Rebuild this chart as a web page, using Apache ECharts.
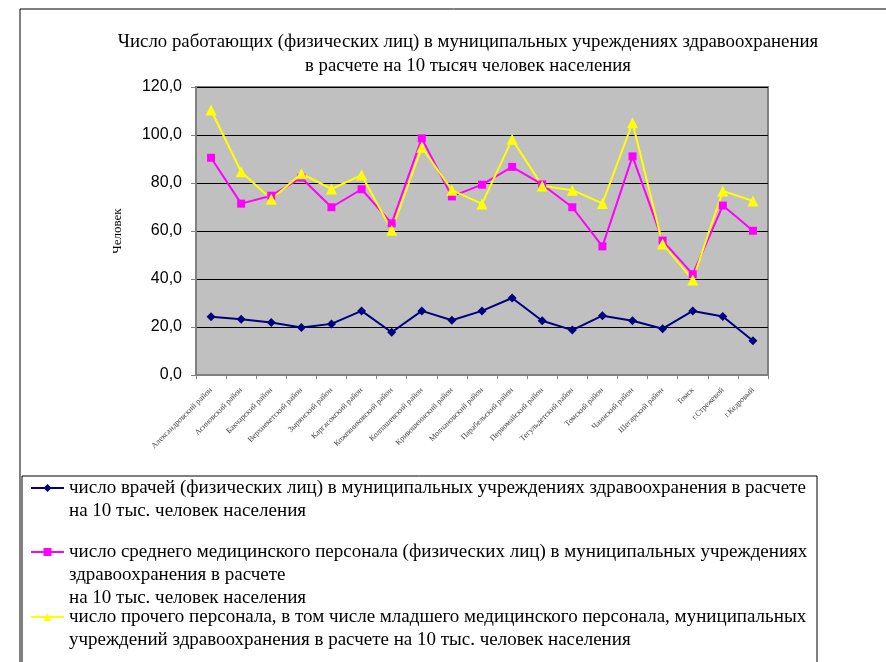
<!DOCTYPE html>
<html>
<head>
<meta charset="utf-8">
<script src="https://cdn.jsdelivr.net/npm/echarts@6/dist/echarts.min.js"></script>
<style>
    html, body { margin: 0; padding: 0; background: #fff; }
    #chart { width: 886px; height: 662px; }
</style>
</head>
<body>
<div id="chart"></div>
<script>
// районы
const districts = ['Александровский район', 'Асиновский район', 'Бакчарский район', 'Верхнекетский район',
    'Зырянский район', 'Каргасокский район', 'Кожевниковский район', 'Колпашевский район',
    'Кривошеинский район', 'Молчановский район', 'Парабельский район', 'Первомайский район',
    'Тегульдетский район', 'Томский район', 'Чаинский район', 'Шегарский район', 'Томск',
    'г.Стрежевой', 'г.Кедровый'];
// врачи
const doctors = [24.3, 23.2, 21.9, 19.8, 21.3, 26.7, 17.8, 26.7, 22.8, 26.7, 32.1, 22.6, 18.7, 24.7, 22.6, 19.3, 26.7, 24.4, 14.3];
// средний медперсонал
const nurses = [90.5, 71.4, 74.7, 82.2, 69.9, 77.4, 63.2, 98.6, 74.4, 79.3, 86.7, 79.4, 69.9, 53.6, 91.1, 56.0, 42.0, 70.6, 60.1];
// прочий персонал
const others = [110.4, 84.7, 73.2, 83.9, 77.5, 83.3, 60.3, 94.9, 77.0, 71.3, 98.2, 78.8, 77.0, 71.5, 105.1, 54.6, 39.6, 76.7, 72.5];

const names = [
    'число врачей (физических лиц) в муниципальных учреждениях здравоохранения в расчете\nна 10 тыс. человек населения',
    'число среднего медицинского персонала (физических лиц) в муниципальных учреждениях\nздравоохранения в расчете\nна 10 тыс. человек населения',
    'число прочего персонала, в том числе младшего медицинского персонала, муниципальных\nучреждений здравоохранения в расчете на 10 тыс. человек населения'
];

const serif = '"Liberation Serif", "DejaVu Serif", serif';
const sans = '"Liberation Sans", Arial, sans-serif';

const mychart = echarts.init(document.getElementById('chart'));

// одна легенда на каждую серию, чтобы расставить их как в оригинале
// пустые строки сверху: текст центрируется по значку, так значок встает у первой строки
function legendFor(name, top) {
    const lines = name.split('\n').length;
    return {
        data: [name],
        left: 25,
        top: top,
        orient: 'vertical',
        itemWidth: 33,
        itemHeight: 10,
        formatter: n => '\n'.repeat(lines - 1) + n,
        textStyle: { fontFamily: serif, fontSize: 19, color: '#000', lineHeight: 23 }
    };
}

mychart.setOption({
    animation: false,
    title: {
        text: 'Число работающих (физических лиц) в муниципальных учреждениях здравоохранения\nв расчете на 10 тысяч человек населения',
        left: 463,
        textAlign: 'center',
        top: 25,
        textStyle: { fontFamily: serif, fontSize: 18.8, fontWeight: 'normal', color: '#000', lineHeight: 24 }
    },
    graphic: [
        {
            type: 'rect',
            shape: { x: 20, y: 9, width: 900, height: 700 },
            style: { fill: 'none', stroke: '#000', lineWidth: 1 },
            silent: true
        },
        {
            type: 'rect',
            shape: { x: 22, y: 476, width: 795, height: 250 },
            style: { fill: 'none', stroke: '#000', lineWidth: 1 },
            silent: true
        }
    ],
    legend: [
        legendFor(names[0], 448.5),
        legendFor(names[1], 489.5),
        legendFor(names[2], 577.5)
    ],
    grid: {
        left: 196,
        right: 118,
        top: 87,
        bottom: 287,
        show: true,
        backgroundColor: '#C0C0C0',
        borderColor: '#808080',
        borderWidth: 2
    },
    xAxis: {
        type: 'category',
        data: districts,
        boundaryGap: true,
        axisLine: { lineStyle: { color: '#808080', width: 2 } },
        axisTick: { show: true, length: 4, lineStyle: { color: '#808080', width: 1 } },
        axisLabel: {
            rotate: 45,
            interval: 0,
            fontFamily: serif,
            fontSize: 8,
            color: '#444',
            margin: 14
        }
    },
    yAxis: {
        type: 'value',
        min: 0,
        max: 120,
        interval: 20,
        name: 'Человек',
        nameLocation: 'middle',
        nameRotate: 90,
        nameGap: 72,
        nameTextStyle: { fontFamily: serif, fontSize: 13, color: '#000' },
        axisLine: { show: true, lineStyle: { color: '#808080', width: 2 } },
        axisTick: { show: true, length: 5, lineStyle: { color: '#808080', width: 1 } },
        axisLabel: {
            fontFamily: sans,
            fontSize: 16,
            color: '#000',
            margin: 14,
            formatter: v => v.toFixed(1).replace('.', ',')
        },
        splitLine: { lineStyle: { color: '#000', width: 1 } }
    },
    series: [
        {
            name: names[0],
            type: 'line',
            data: doctors,
            color: '#000080',
            symbol: 'diamond',
            symbolSize: 9,
            lineStyle: { width: 2 }
        },
        {
            name: names[1],
            type: 'line',
            data: nurses,
            color: '#FF00FF',
            symbol: 'rect',
            symbolSize: 8,
            lineStyle: { width: 2 }
        },
        {
            name: names[2],
            type: 'line',
            data: others,
            color: '#FFFF00',
            symbol: 'triangle',
            symbolSize: 11,
            lineStyle: { width: 2 }
        }
    ]
});
</script>
</body>
</html>
